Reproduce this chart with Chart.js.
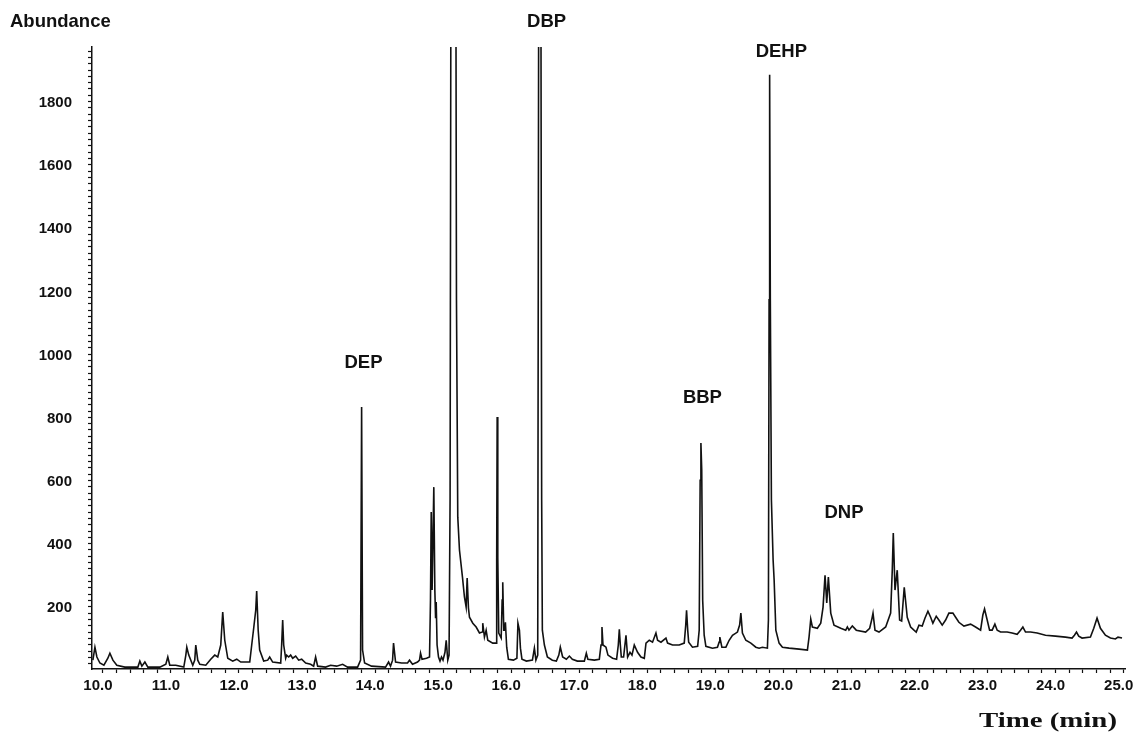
<!DOCTYPE html>
<html>
<head>
<meta charset="utf-8">
<title>Total ion chromatogram - phthalates</title>
<script src="https://cdn.jsdelivr.net/npm/chart.js@4.4.0/dist/chart.umd.min.js"></script>
<style>
  html, body { margin: 0; padding: 0; background: #fff; }
</style>
</head>
<body>
<canvas id="tic" width="1135" height="734"></canvas>
<script>
// retention time (min) of each traced point
const times = [
  9.853, 9.883, 9.912, 9.956, 10.015, 10.073, 10.103, 10.147, 10.205, 10.323,
  10.514, 10.543, 10.573, 10.617, 10.661, 10.837, 10.925, 10.954, 10.983, 11.071,
  11.189, 11.219, 11.233, 11.262, 11.321, 11.350, 11.365, 11.394, 11.424, 11.512,
  11.585, 11.644, 11.688, 11.732, 11.761, 11.791, 11.835, 11.908, 11.967, 12.026,
  12.158, 12.187, 12.216, 12.246, 12.260, 12.282, 12.304, 12.363, 12.422, 12.451,
  12.495, 12.613, 12.627, 12.642, 12.657, 12.686, 12.701, 12.730, 12.759, 12.789,
  12.833, 12.877, 12.921, 12.980, 13.053, 13.097, 13.126, 13.156, 13.273, 13.346,
  13.435, 13.523, 13.596, 13.743, 13.787, 13.802, 13.816, 13.846, 13.948, 14.154,
  14.198, 14.227, 14.257, 14.271, 14.301, 14.389, 14.477, 14.506, 14.550, 14.624,
  14.653, 14.668, 14.690, 14.756, 14.800, 14.814, 14.825, 14.838, 14.863, 14.878,
  14.889, 14.898, 14.911, 14.932, 14.954, 14.976, 14.998, 15.027, 15.045, 15.068,
  15.087, 15.102, 15.117, 15.184, 15.196, 15.215, 15.240, 15.284, 15.313, 15.338,
  15.353, 15.372, 15.387, 15.436, 15.485, 15.534, 15.573, 15.582, 15.607, 15.632,
  15.656, 15.729, 15.779, 15.787, 15.794, 15.803, 15.817, 15.853, 15.867, 15.876,
  15.891, 15.905, 15.915, 15.934, 15.959, 16.033, 16.084, 16.099, 16.121, 16.136,
  16.158, 16.224, 16.312, 16.341, 16.363, 16.390, 16.407, 16.434, 16.448, 16.458,
  16.488, 16.532, 16.605, 16.664, 16.700, 16.722, 16.756, 16.811, 16.855, 16.899,
  16.973, 17.075, 17.104, 17.127, 17.222, 17.295, 17.320, 17.334, 17.349, 17.393,
  17.422, 17.490, 17.549, 17.574, 17.589, 17.604, 17.618, 17.652, 17.687, 17.711,
  17.746, 17.775, 17.809, 17.857, 17.907, 17.956, 17.981, 18.029, 18.077, 18.127,
  18.151, 18.201, 18.274, 18.298, 18.371, 18.469, 18.543, 18.565, 18.577, 18.594,
  18.608, 18.664, 18.740, 18.763, 18.777, 18.788, 18.800, 18.814, 18.836, 18.861,
  18.958, 19.031, 19.056, 19.066, 19.081, 19.096, 19.155, 19.203, 19.252, 19.325,
  19.357, 19.375, 19.398, 19.448, 19.522, 19.595, 19.643, 19.692, 19.765, 19.780,
  19.790, 19.798, 19.808, 19.824, 19.849, 19.864, 19.889, 19.937, 19.986, 20.084,
  20.231, 20.353, 20.377, 20.402, 20.426, 20.499, 20.549, 20.583, 20.612, 20.637,
  20.661, 20.696, 20.744, 20.843, 20.916, 20.940, 20.964, 21.013, 21.071, 21.209,
  21.268, 21.297, 21.317, 21.346, 21.405, 21.503, 21.576, 21.600, 21.615, 21.640,
  21.673, 21.708, 21.738, 21.776, 21.820, 21.870, 21.919, 21.952, 21.992, 22.040,
  22.080, 22.124, 22.164, 22.197, 22.246, 22.285, 22.334, 22.384, 22.432, 22.491,
  22.531, 22.579, 22.653, 22.751, 22.824, 22.898, 22.931, 22.956, 22.995, 23.030,
  23.068, 23.108, 23.142, 23.191, 23.288, 23.361, 23.435, 23.485, 23.519, 23.558,
  23.632, 23.729, 23.852, 23.998, 24.145, 24.242, 24.277, 24.307, 24.340, 24.389,
  24.512, 24.561, 24.609, 24.659, 24.732, 24.806, 24.879, 24.917, 24.976
];

// abundance at each point (the three big peaks run off the top of the scale)
const abundance = [
  51, 92, 61, 42, 35, 57, 73, 51, 35, 29,
  29, 48, 32, 45, 29, 29, 38, 61, 35, 35,
  29, 67, 92, 67, 35, 51, 99, 51, 38, 35,
  54, 67, 61, 99, 203, 114, 57, 48, 54, 45,
  45, 99, 152, 209, 270, 146, 83, 48, 51, 61,
  45, 42, 99, 178, 99, 57, 67, 61, 67, 57,
  64, 51, 54, 42, 38, 32, 61, 32, 29, 35,
  32, 38, 29, 29, 51, 853, 83, 42, 32, 29,
  45, 32, 51, 105, 45, 42, 42, 51, 38, 45,
  51, 73, 54, 57, 61, 241, 520, 273, 599, 273,
  184, 235, 99, 61, 48, 61, 51, 76, 114, 51,
  67, 558, 2600, 2600, 1192, 504, 400, 314, 251, 219,
  311, 216, 187, 168, 156, 137, 140, 168, 124, 146,
  114, 105, 105, 368, 821, 377, 137, 121, 241, 298,
  146, 146, 171, 92, 54, 51, 57, 168, 146, 89,
  54, 48, 51, 89, 51, 67, 2600, 2600, 558, 146,
  99, 61, 51, 48, 67, 92, 61, 54, 64, 54,
  48, 48, 73, 54, 51, 54, 99, 156, 99, 92,
  67, 57, 54, 99, 149, 99, 61, 61, 130, 61,
  76, 67, 99, 76, 61, 57, 105, 114, 108, 137,
  114, 108, 121, 105, 99, 99, 105, 162, 209, 146,
  108, 92, 95, 146, 621, 739, 653, 241, 130, 95,
  89, 92, 108, 124, 108, 92, 92, 114, 130, 140,
  162, 200, 137, 114, 105, 92, 89, 92, 89, 178,
  1192, 1905, 1192, 558, 368, 305, 146, 105, 92, 89,
  86, 83, 124, 181, 156, 152, 168, 219, 320, 232,
  314, 200, 162, 152, 146, 156, 146, 159, 146, 140,
  152, 178, 200, 146, 140, 156, 200, 336, 454, 273,
  336, 178, 175, 282, 187, 156, 146, 140, 162, 159,
  184, 206, 187, 168, 190, 178, 162, 178, 200, 200,
  187, 171, 159, 165, 156, 146, 194, 213, 178, 146,
  146, 165, 146, 140, 140, 137, 133, 146, 156, 140,
  140, 137, 130, 127, 124, 121, 130, 140, 127, 121,
  124, 152, 184, 152, 130, 121, 118, 124, 121
];

const xTickLabels = ['10.0', '11.0', '12.0', '13.0', '14.0', '15.0', '16.0', '17.0',
  '18.0', '19.0', '20.0', '21.0', '22.0', '23.0', '24.0', '25.0'];
const yTickLabels = [200, 400, 600, 800, 1000, 1200, 1400, 1600, 1800];

// peak names and where their captions sit (time, abundance)
const peakNames = ['DEP', 'DBP', 'BBP', 'DEHP', 'DNP'];
const peakLabelTimes = [13.83, 16.52, 18.81, 19.97, 20.89];
const peakLabelLevels = [992, 2073, 881, 1978, 517];

const INK = '#111';
const SANS = '"Liberation Sans", Arial, Helvetica, sans-serif';

const captions = {
    id: 'captions',
    afterDraw(chart) {
        const ctx = chart.ctx;
        const xs = chart.scales.x;
        const ys = chart.scales.y;
        ctx.save();
        ctx.fillStyle = INK;
        ctx.textBaseline = 'middle';
        ctx.font = 'bold 18.5px ' + SANS;
        ctx.textAlign = 'center';
        peakNames.forEach(function(name, i) {
            ctx.fillText(name, xs.getPixelForValue(peakLabelTimes[i]), ys.getPixelForValue(peakLabelLevels[i]));
        });
        ctx.textAlign = 'left';
        ctx.fillText('Abundance', 10, 22);

        // x axis title is a wide bold serif in the print
        ctx.font = 'bold 21px "Liberation Serif", "Times New Roman", serif';
        const w = ctx.measureText('Time (min)').width;
        ctx.translate(1117, 722);
        ctx.scale(138 / w, 1);
        ctx.textAlign = 'right';
        ctx.fillText('Time (min)', 0, 0);
        ctx.restore();
    }
};

new Chart(document.getElementById('tic'), {
    type: 'line',
    data: {
        datasets: [{
            label: 'TIC',
            data: times.map((t, i) => ({ x: t, y: abundance[i] })),
            borderColor: INK,
            borderWidth: 1.6,
            pointRadius: 0,
            tension: 0,
            fill: false
        }]
    },
    options: {
        responsive: false,
        animation: false,
        devicePixelRatio: 1,
        layout: { padding: { left: 0, right: 10, top: 47, bottom: 0 } },
        plugins: {
            legend: { display: false },
            tooltip: { enabled: false }
        },
        scales: {
            x: {
                type: 'linear',
                min: 9.84,
                max: 25.02,
                afterBuildTicks: function(scale) {
                    const first = parseFloat(xTickLabels[0]);
                    const last = parseFloat(xTickLabels[xTickLabels.length - 1]);
                    const ticks = [];
                    for (let k = Math.round(first * 5); k <= Math.round(last * 5); k++) {
                        ticks.push({ value: k / 5 });
                    }
                    scale.ticks = ticks;
                },
                afterFit: function(scale) {
                    scale.height = 65;
                    scale.paddingLeft = 0;
                    scale.paddingRight = 0;
                },
                grid: { drawOnChartArea: false, tickLength: 4, tickColor: INK, tickWidth: 1.2 },
                border: { color: INK, width: 1.5 },
                ticks: {
                    autoSkip: false,
                    maxRotation: 0,
                    padding: 4,
                    labelOffset: -5,
                    color: INK,
                    font: { family: SANS, size: 15, weight: 'bold' },
                    callback: function(value) {
                        const s = Number(value).toFixed(1);
                        return xTickLabels.includes(s) ? s : '';
                    }
                }
            },
            y: {
                type: 'linear',
                min: 23,
                max: 1993,
                afterBuildTicks: function(scale) {
                    const ticks = [];
                    for (let v = 40; v <= 1980; v += 20) ticks.push({ value: v });
                    scale.ticks = ticks;
                },
                afterFit: function(scale) {
                    scale.width = 92;
                    scale.paddingTop = 0;
                    scale.paddingBottom = 0;
                },
                grid: { drawOnChartArea: false, tickLength: 4, tickColor: INK, tickWidth: 1.2 },
                border: { color: INK, width: 1.5 },
                ticks: {
                    autoSkip: false,
                    padding: 16,
                    labelOffset: -5,
                    color: INK,
                    font: { family: SANS, size: 15, weight: 'bold' },
                    callback: function(value) {
                        return yTickLabels.includes(value) ? String(value) : '';
                    }
                }
            }
        }
    },
    plugins: [captions]
});
</script>
</body>
</html>
